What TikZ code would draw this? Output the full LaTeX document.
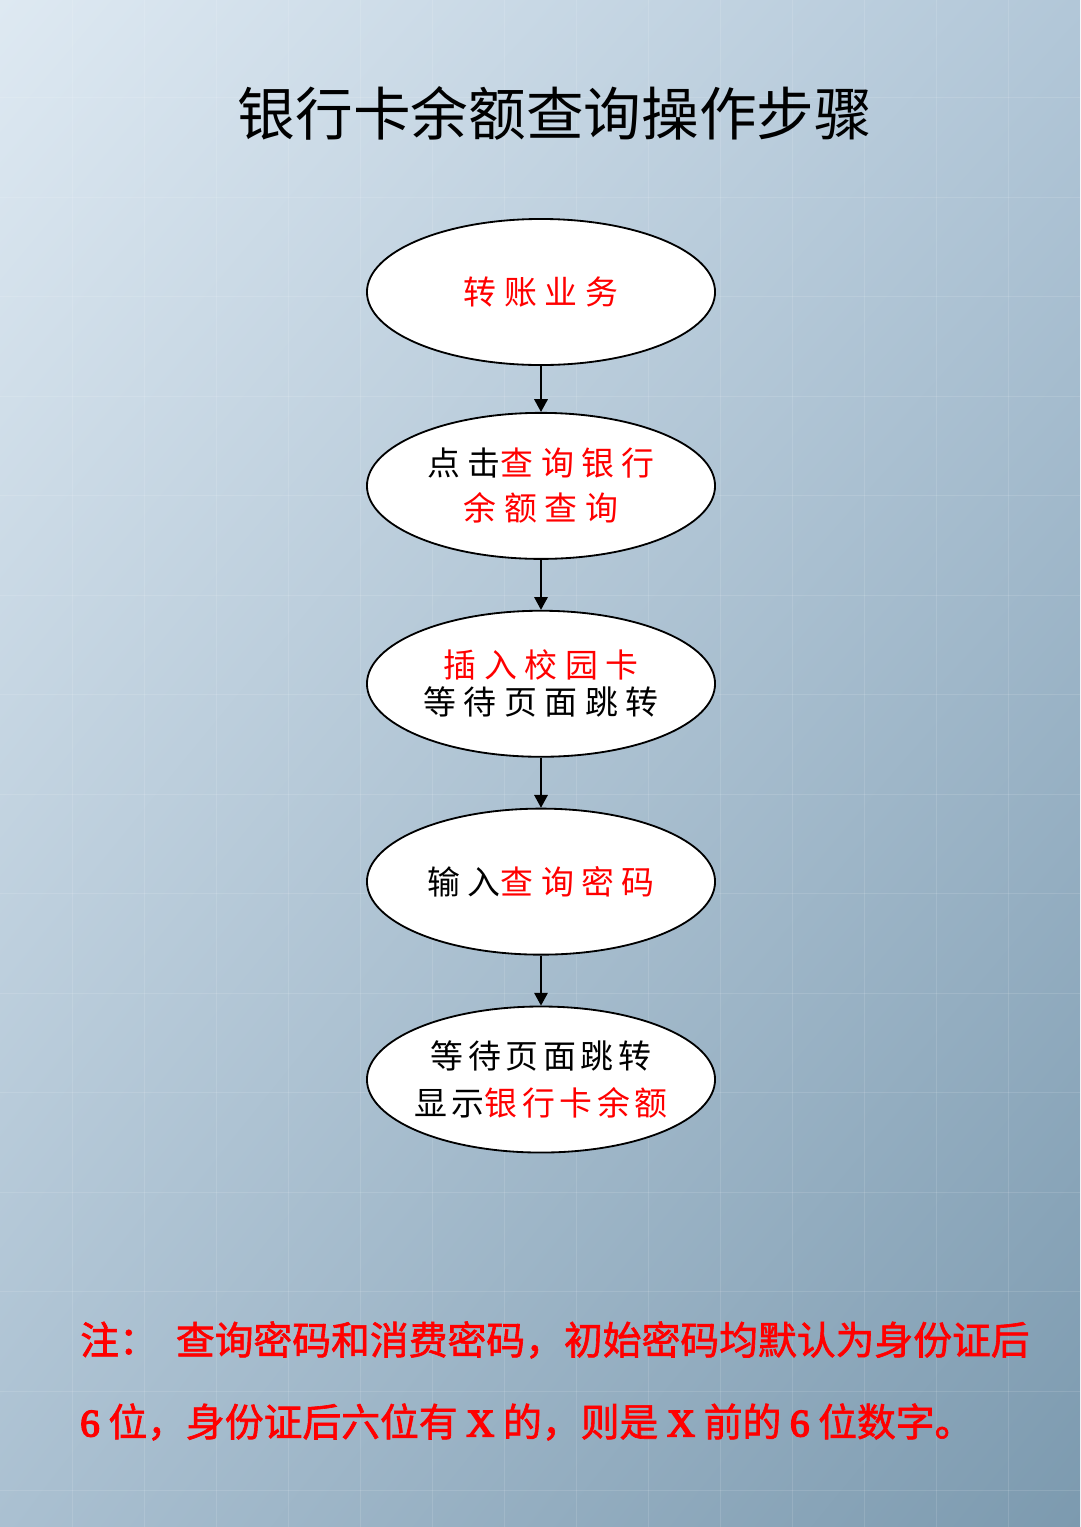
\documentclass[tikz,border=0pt]{standalone}
\usepackage{fontspec}
\setmainfont{Liberation Serif}
\newfontfamily\cjk{Noto Sans CJK SC}
\newfontfamily\cjkwide[LetterSpace=23]{Noto Sans CJK SC}
\newfontfamily\cjkmid[LetterSpace=14]{Noto Sans CJK SC}
\newfontfamily\cjknote[FakeBold=1.6]{Noto Sans CJK SC}
\newfontfamily\latnote[FakeBold=4]{Liberation Serif}
\newcommand\redtxt[1]{\textcolor{red}{#1}}
\newcommand\lat[1]{{\latnote #1}}
\usetikzlibrary{positioning,shapes.geometric,arrows.meta,shadings}

\definecolor{bgtl}{RGB}{222,233,242}
\definecolor{bgtr}{RGB}{178,199,216}
\definecolor{bgbl}{RGB}{170,192,209}
\definecolor{bgbr}{RGB}{124,154,175}

\begin{document}
\begin{tikzpicture}[
        x=0.025cm, y=-0.025cm,
        stepnode/.style={
                ellipse,
                draw=black,
                fill=white,
                line width=1.3pt,
                minimum width=8.7cm,
                minimum height=3.65cm,
                inner xsep=-0.5cm,
                inner ysep=0pt,
                align=center,
                font=\cjkwide\fontsize{23.4pt}{32pt}\selectfont
            },
        headline/.style={
                font=\cjk\fontsize{41pt}{41pt}\selectfont
            },
        note/.style={
                anchor=west,
                inner sep=0pt,
                text=red,
                font=\cjknote\fontsize{27.6pt}{30pt}\selectfont
            },
        tileline/.style={white, opacity=0.12, line width=0.6pt},
        >={Triangle[length=0.32cm,width=0.34cm]}
    ]
    \useasboundingbox (0,0) rectangle (1080,1527);
    \shade[upper left=bgtl, upper right=bgtr, lower left=bgbl, lower right=bgbr] (0,0) rectangle (1080,1527);
    \foreach \i in {1,...,14} \draw[tileline] (\i*72,0) -- (\i*72,1527);
    \foreach \j in {1,...,15} \draw[tileline] (0,\j*99.5-2) -- (1080,\j*99.5-2);

    \node[headline] (Title) at (555,113) {银行卡余额查询操作步骤};

    \node[stepnode] (Transfer) at (541,292) {\redtxt{转账业务}};
    \node[stepnode] (Query) [below=1.15cm of Transfer] {点击\redtxt{查询银行}\\\redtxt{余额查询}};
    \node[stepnode] (Card) [below=1.25cm of Query] {\redtxt{插入校园卡}\\[-0.2cm]等待页面跳转};
    \node[stepnode] (Password) [below=1.25cm of Card] {输入\redtxt{查询密码}};
    \node[stepnode, font=\cjkmid\fontsize{23.4pt}{33pt}\selectfont] (Balance) [below=1.25cm of Password] {等待页面跳转\\显示\redtxt{银行卡余额}};

    \draw[->, line width=1pt] (Transfer) -- (Query);
    \draw[->, line width=1pt] (Query) -- (Card);
    \draw[->, line width=1pt] (Card) -- (Password);
    \draw[->, line width=1pt] (Password) -- (Balance);

    \node[note] (NoteA) at (80,1340) {注：\hspace{0.45cm}查询密码和消费密码，初始密码均默认为身份证后};
    \node[note] (NoteB) at (80,1422) {\lat{6} 位，身份证后六位有 \lat{X} 的，则是 \lat{X} 前的 \lat{6} 位数字。};
\end{tikzpicture}
\end{document}
